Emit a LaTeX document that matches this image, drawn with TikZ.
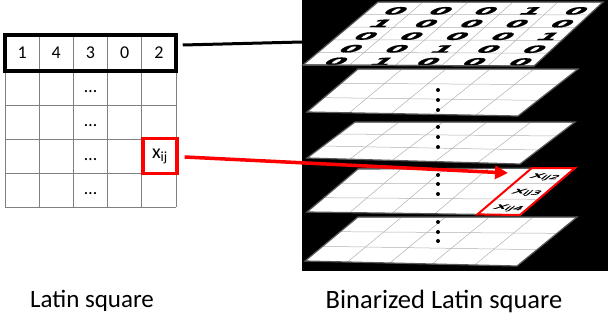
\documentclass[tikz,border=0pt]{standalone}
\usepackage{fontspec}
\setmainfont{Carlito}
\newfontfamily\bitfont[FakeBold=1]{DejaVu Sans Bold}
\newfontfamily\cellfont[FakeBold=1]{DejaVu Sans}
\usetikzlibrary{calc,arrows.meta}

\tikzset{
  gridline/.style={draw=black!30, line width=0.5pt},
  tableline/.style={draw=black!50, line width=0.8pt},
  planeedge/.style={draw=black!65, line width=1.2pt},
  persp/.style={inner sep=0pt, yscale=0.5, xslant=0.6, xscale=1.3},
  bitpersp/.style={inner sep=0pt, yscale=0.46, xslant=0.6, xscale=1.35},
  tabtext/.style={inner sep=0pt, font=\fontsize{18}{22}\selectfont},
  caption/.style={inner sep=0pt, font=\fontsize{25}{30}\selectfont},
  vdot/.style={fill=black, circle, inner sep=0pt, minimum size=4pt},
  redarrow/.style={draw=red, line width=3.5pt, -{Triangle[length=13pt, width=13pt]}},
}
\newcommand\bitsize{\bitfont\fontsize{22}{22}\selectfont}
\newcommand\subsize{\cellfont\fontsize{16}{16}\selectfont}

% one layer of the binarized stack: name, corners BL BR TR TL, number of rows
\newcommand\bplane[6]{%
  \coordinate (#1-bl) at #2;
  \coordinate (#1-br) at #3;
  \coordinate (#1-tr) at #4;
  \coordinate (#1-tl) at #5;
  \fill[white] (#1-bl) -- (#1-br) -- (#1-tr) -- (#1-tl) -- cycle;
  \foreach \k in {1,...,4}
    \draw[gridline] ($(#1-bl)!\k/5!(#1-br)$) -- ($(#1-tl)!\k/5!(#1-tr)$);
  \foreach \k in {1,...,#6}
    \draw[gridline] ($(#1-bl)!\k/#6!(#1-tl)$) -- ($(#1-br)!\k/#6!(#1-tr)$);
  \foreach \r in {1,...,#6}
    \foreach \c in {1,...,5} {
      \pgfmathsetmacro\tpar{1-(\r-0.5)/#6}
      \pgfmathsetmacro\spar{(\c-0.5)/5}
      \coordinate (#1-\r-\c) at ($($(#1-bl)!\tpar!(#1-tl)$)!\spar!($(#1-br)!\tpar!(#1-tr)$)$);
    }
  \draw[planeedge] (#1-bl) -- (#1-br) -- (#1-tr) -- (#1-tl) -- cycle;
}

\begin{document}
\begin{tikzpicture}[x=1pt, y=-1pt]
\useasboundingbox (0,0) rectangle (608,324);

% ---------- Latin square ----------
\foreach \c in {1,...,4}
  \draw[tableline] ({5+34.2*\c},35) -- ({5+34.2*\c},207);
\foreach \y in {105,139,173,207}
  \draw[tableline] (5,\y) -- (176,\y);
\draw[tableline] (5,71) -- (5,207);
\draw[tableline] (176,71) -- (176,207);

\foreach \v [count=\c] in {1,4,3,0,2}
  \node[tabtext] (top-\c) at ({5+34.2*(\c-0.5)},53) {\v};
\node[draw=black, line width=3.5pt, minimum width=171pt, minimum height=36pt, inner sep=0pt] (toprow) at (90.5,53) {};

\foreach \r in {1,...,4}
  \node[tabtext] (dots-\r) at (90.5,{88+34*(\r-1)}) {\strut…};

\node[tabtext, font=\fontsize{20}{24}\selectfont, draw=red, line width=3.5pt, minimum width=34pt, minimum height=35pt] (xij) at (159.9,156) {x\textsubscript{ij}};

% ---------- Binarized Latin square ----------
\fill[black] (302,0) rectangle (608,271);

\bplane{p5}{(305,261)}{(517,266)}{(577,217)}{(358,217)}{3}
\bplane{p4}{(307,212)}{(520,215)}{(575,168)}{(358,169)}{3}
\bplane{p3}{(307,158)}{(520,164)}{(575,122)}{(355,122)}{3}
\bplane{p2}{(307,112)}{(518,116)}{(578,69)}{(358,69)}{3}
\bplane{p1}{(303,65)}{(534,66)}{(603,2)}{(378,2)}{5}

% bits of the first layer
\begin{scope}
  \clip (p1-bl) -- (p1-br) -- (p1-tr) -- (p1-tl) -- cycle;
  \foreach \row [count=\r] in {{0,0,0,1,0},{1,0,0,0,0},{0,0,0,0,1},{0,0,1,0,0},{0,1,0,0,0}}
    \foreach \v [count=\c] in \row
      \node[bitpersp] (bit-\r-\c) at ($(p1-\r-\c)+(3,2.5)$) {\bitsize\v};
\end{scope}
\draw[planeedge] (p1-bl) -- (p1-br);

% vertical ellipses between layers
\foreach \y [count=\i] in {90,100,110,127,137,147,175,184,194,222,232,241}
  \node[vdot] (vd-\i) at (438,\y) {};

% highlighted column of the fourth layer
\draw[red, line width=2pt] ($(p4-bl)!0.8!(p4-br)$) -- (p4-br) -- (p4-tr) -- ($(p4-tl)!0.8!(p4-tr)$) -- cycle;
\foreach \r/\s in {1/2,2/3,3/4}
  \node[persp] (x-\s) at ($(p4-\r-5)+(1,1)$) {\subsize x\textsubscript{ij\s}};

% connectors
\coordinate (rowend) at (302,42);
\draw[line width=3pt] ([shift={(5,-8)}]toprow.east) -- (rowend);
\coordinate (celltip) at (508,173);
\draw[redarrow] ([shift={(6,1)}]xij.east) -- (celltip);

% captions
\node[caption] (cap-left) at (92,301) {Latin square};
\node[caption, font=\fontsize{26.5}{30}\selectfont] (cap-right) at (444,301) {Binarized Latin square};
\end{tikzpicture}
\end{document}
